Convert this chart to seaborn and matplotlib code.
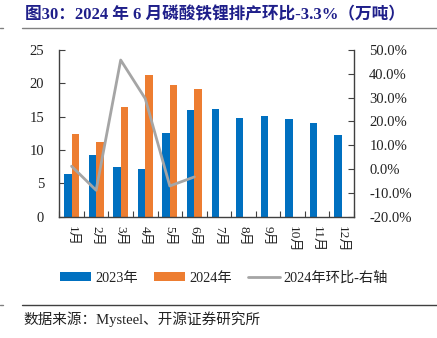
import matplotlib
matplotlib.use("Agg")
import matplotlib.pyplot as plt
import seaborn as sns
import pandas as pd
import numpy as np
from matplotlib.lines import Line2D
from matplotlib.patches import Patch
from matplotlib.ticker import FuncFormatter, MultipleLocator

months = ["1月", "2月", "3月", "4月", "5月", "6月", "7月", "8月", "9月", "10月", "11月", "12月"]
y2023 = [6.4, 9.25, 7.5, 7.1, 12.6, 16.0, 16.1, 14.85, 15.05, 14.65, 14.05, 12.2]
y2024 = [12.35, 11.25, 16.4, 21.25, 19.75, 19.1]
mom2024 = [1.2, -8.9, 45.8, 29.6, -7.1, -3.3]

title = "图30：2024 年 6 月磷酸铁锂排产环比-3.3%（万吨）"
source = "数据来源：Mysteel、开源证券研究所"

sns.set_theme(style="white")
plt.rcParams["font.family"] = ["Liberation Serif", "Noto Sans CJK SC", "DejaVu Sans"]
plt.rcParams["axes.unicode_minus"] = False

blue = "#0070C0"
orange = "#ED7D31"
gray = "#A5A5A5"

rows = []
for m, v in zip(months, y2023):
    rows.append({"month": m, "year": "2023年", "value": v})
for m, v in zip(months, y2024):
    rows.append({"month": m, "year": "2024年", "value": v})
df = pd.DataFrame(rows)

fig = plt.figure(figsize=(4.37, 3.38), dpi=100)
ax = fig.add_axes([0.1357, 0.3589, 0.810 - 0.1357, 0.852 - 0.3589])

sns.barplot(data=df, x="month", y="value", hue="year", order=months,
            hue_order=["2023年", "2024年"], palette=[blue, orange],
            width=0.6, dodge=True, gap=0.0, ax=ax, legend=False,
            edgecolor="none", saturation=1)
ax.set_xlim(-0.5, 11.5)
ax.set_ylim(0, 25)
ax.yaxis.set_major_locator(MultipleLocator(5))
ax.set_xlabel("")
ax.set_ylabel("")

ax2 = ax.twinx()
ldf = pd.DataFrame({"x": np.arange(len(mom2024)), "v": mom2024})
sns.lineplot(data=ldf, x="x", y="v", ax=ax2, color=gray, linewidth=2.0, legend=False)
ax2.set_ylim(-20, 50)
ax2.yaxis.set_major_locator(MultipleLocator(10))
ax2.yaxis.set_major_formatter(FuncFormatter(lambda v, p: f"{v:.1f}%"))
ax2.set_xlim(-0.5, 11.5)
ax2.set_xlabel("")
ax2.set_ylabel("")

for a in (ax, ax2):
    a.spines["top"].set_visible(False)
ax.spines["right"].set_visible(False)
ax2.spines["left"].set_visible(False)
ax2.spines["bottom"].set_visible(False)
for a in (ax, ax2):
    for s in a.spines.values():
        s.set_color("#404040")
        s.set_linewidth(1.0)

ax.tick_params(axis="y", direction="in", length=4, width=0.8, color="#404040",
               labelsize=10.5, pad=11, left=True)
ax2.tick_params(axis="y", direction="in", length=4, width=0.8, color="#404040",
                labelsize=10.5, pad=11, right=True)
ax.set_xticks(np.arange(12))
ax.set_xticklabels(months, rotation=270, fontsize=9.5)
ax.tick_params(axis="x", length=0, pad=7, labelsize=9.5)
ax.set_xticks(np.arange(-0.5, 12, 1), minor=True)
ax.tick_params(axis="x", which="minor", direction="in", length=4, width=0.8,
               color="#404040", bottom=True)
for lbl in ax.get_yticklabels() + ax2.get_yticklabels() + ax.get_xticklabels():
    lbl.set_color("#222222")

handles = [Patch(facecolor=blue, edgecolor="none"),
           Patch(facecolor=orange, edgecolor="none"),
           Line2D([0], [0], color=gray, linewidth=2.0)]
fig.legend(handles, ["2023年", "2024年", "2024年环比-右轴"], loc="center",
           bbox_to_anchor=(224 / 437, 1 - 278 / 338), ncol=3, frameon=False,
           fontsize=10.3, handlelength=2.2, handleheight=0.6, columnspacing=1.1,
           handletextpad=0.3, labelcolor="#222222")

fig.text(25 / 437, 1 - 15 / 338, title, fontsize=12, fontweight="bold",
         color="#1F1F8A", va="center", ha="left")
fig.add_artist(Line2D([22 / 437, 1.0], [1 - 28 / 338] * 2, color="#808080", linewidth=1.0))
fig.add_artist(Line2D([0, 3 / 437], [1 - 28 / 338] * 2, color="#808080", linewidth=1.0))
fig.add_artist(Line2D([22 / 437, 1.0], [1 - 305 / 338] * 2, color="#404040", linewidth=1.0))
fig.add_artist(Line2D([0, 3 / 437], [1 - 305 / 338] * 2, color="#808080", linewidth=1.0))
fig.text(23 / 437, 1 - 319 / 338, source, fontsize=10.5, color="#222222",
         va="center", ha="left")

fig.savefig("out.png", dpi=100)
